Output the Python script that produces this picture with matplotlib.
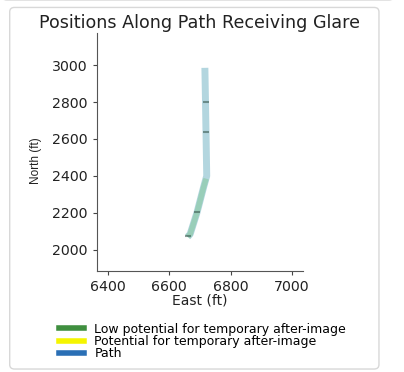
import matplotlib
matplotlib.use("Agg")
import matplotlib.pyplot as plt
from matplotlib.patches import FancyBboxPatch
from matplotlib.lines import Line2D

# Path vertices (East ft, North ft)
path_east = [6660, 6668, 6690, 6712, 6722, 6720, 6718, 6716]
path_north = [2070, 2085, 2200, 2340, 2400, 2600, 2800, 2985]

# Glare segment (low potential for temporary after-image)
glare_east = [6660, 6668, 6690, 6712, 6720]
glare_north = [2070, 2085, 2200, 2340, 2385]

# Marked positions along path
mark_east = [6662, 6690, 6719, 6719]
mark_north = [2075, 2205, 2640, 2800]

x_ticks = [6400, 6600, 6800, 7000]
y_ticks = [2000, 2200, 2400, 2600, 2800, 3000]

legend_labels = ["Low potential for temporary after-image",
                 "Potential for temporary after-image",
                 "Path"]
legend_colors = ["#3f8f3f", "#f5f500", "#2a6fb5"]

fig = plt.figure(figsize=(4.04, 3.72), dpi=100)
fig.patch.set_facecolor("white")

# card backgrounds
card_top = FancyBboxPatch((0.005, 1.0), 0.97, 0.05, boxstyle="round,pad=0,rounding_size=0.012",
                          transform=fig.transFigure, facecolor="white", edgecolor="#d8d8d8", lw=1.0,
                          zorder=-5)
fig.patches.append(card_top)
card = FancyBboxPatch((0.024, 0.008), 0.914, 0.972, boxstyle="round,pad=0,rounding_size=0.012",
                      transform=fig.transFigure, facecolor="white", edgecolor="#d8d8d8", lw=1.0,
                      zorder=-5)
fig.patches.append(card)

ax = fig.add_axes([0.240, 0.272, 0.510, 0.639])
ax.set_zorder(2)
ax.patch.set_alpha(0)

ax.plot(path_east, path_north, color="#a6cfda", lw=5, alpha=0.85, solid_capstyle="butt", zorder=2)
ax.plot(glare_east, glare_north, color="#8ccaa6", lw=4, alpha=0.65, solid_capstyle="butt", zorder=3)
ax.plot(mark_east, mark_north, ls="none", marker="_", ms=5, mew=1.5, color="#3a5a50", alpha=0.6, zorder=4)

ax.set_xlim(6364, 7036)
ax.set_ylim(1886, 3173)
ax.set_xticks(x_ticks)
ax.set_yticks(y_ticks)
ax.tick_params(labelsize=10.2, colors="#444444", length=3, width=0.8, labelcolor="#222222")
for s in ["top", "right"]:
    ax.spines[s].set_visible(False)
for s in ["left", "bottom"]:
    ax.spines[s].set_color("#555555")
    ax.spines[s].set_linewidth(0.8)

ax.set_xlabel("East (ft)", fontsize=10, color="#222222", labelpad=0)
ax.set_ylabel("North (ft)", fontsize=8.5, color="#222222",
              family=["Liberation Sans Narrow", "Liberation Sans", "DejaVu Sans"],
              fontstretch="condensed")
ax.yaxis.set_label_coords(-0.265, 0.465)
fig.text(0.495, 0.938, "Positions Along Path Receiving Glare", ha="center", va="center",
         fontsize=12.6, color="#222222")

handles = [Line2D([0], [0], color=c, lw=4) for c in legend_colors]
leg = fig.legend(handles, legend_labels, loc="center left", bbox_to_anchor=(0.125, 0.082),
                 frameon=False, fontsize=9.0, handlelength=2.0, labelspacing=-0.05, handletextpad=0.8,
                 borderpad=0.2)
leg.set_zorder(3)

fig.savefig("out.png", dpi=100, facecolor="white")
